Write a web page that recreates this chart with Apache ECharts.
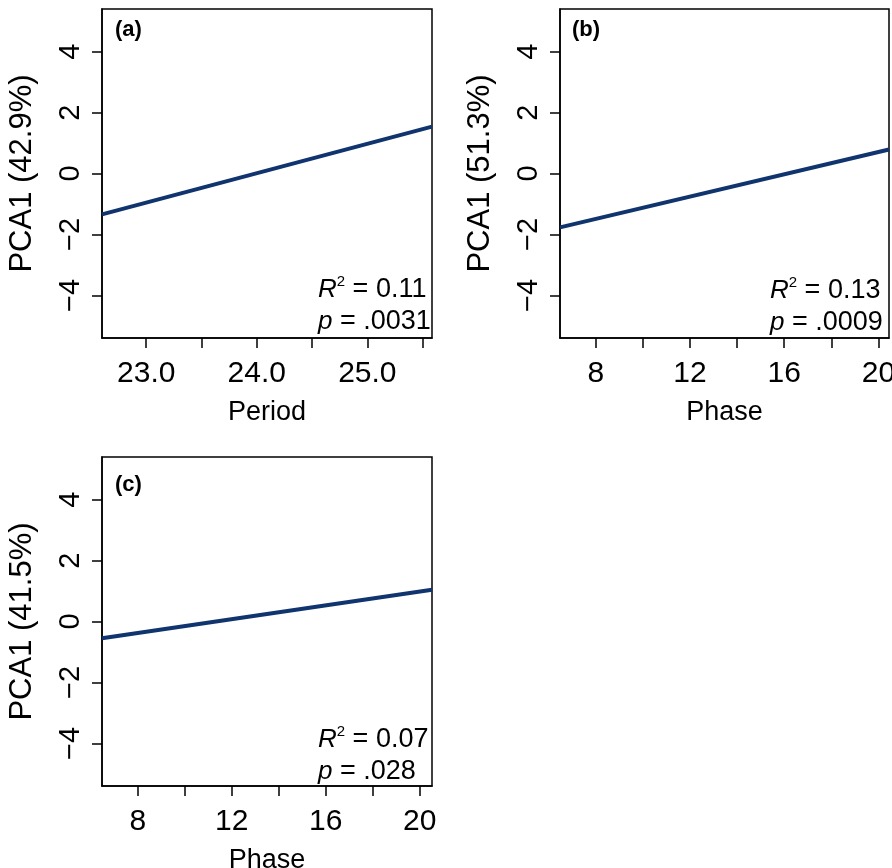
<!DOCTYPE html>
<html><head><meta charset="utf-8">
<script src="https://cdn.jsdelivr.net/npm/echarts@6/dist/echarts.min.js"></script>
<style>html,body{margin:0;padding:0;background:#fff}#c{width:892px;height:868px}</style>
</head><body><div id="c"></div><script>
const panelLabels = ['(a)', '(b)', '(c)'];
const xTitles = ['Period', 'Phase', 'Phase'];
const yTitles = ['PCA1 (42.9%)', 'PCA1 (51.3%)', 'PCA1 (41.5%)'];
const xRanges = [[22.6, 25.585], [6.48, 20.45], [6.48, 20.52]];
const yRange = [-5.4, 5.4];
const xTickValues = [[23, 23.5, 24, 24.5, 25, 25.5], [8, 10, 12, 14, 16, 18, 20], [8, 10, 12, 14, 16, 18, 20]];
const xLabelValues = [[23, 24, 25], [8, 12, 16, 20], [8, 12, 16, 20]];
const xLabelDecimals = [1, 0, 0];
const yTickValues = [-4, -2, 0, 2, 4];
const fitX = [[22.6, 25.585], [6.48, 20.45], [6.48, 20.52]];
const fitY = [[-1.34, 1.54], [-1.77, 0.79], [-0.55, 1.04]];
const r2Values = ['0.11', '0.13', '0.07'];
const pValues = ['.0031', '.0009', '.028'];

const FONT = 'Liberation Sans, Arial, Helvetica, sans-serif';
const LINE_COLOR = '#10346e';
const grids = [
  {left: 102, top: 9, width: 330, height: 329},
  {left: 560, top: 9, width: 329, height: 329},
  {left: 102, top: 457, width: 330, height: 329}
];
const labelPos = [[115, 19], [572, 19], [115, 474]];
const statPos = [[318, 274], [770, 275], [318, 724]];

const chart = echarts.init(document.getElementById('c'), null, {renderer: 'canvas'});
const option = {
  backgroundColor: '#fff',
  animation: false,
  grid: grids.map(g => Object.assign({show: true, borderColor: '#000', borderWidth: 1.5, backgroundColor: 'transparent', containLabel: false, outerBoundsMode: 'none'}, g)),
  xAxis: grids.map((g, i) => ({
    type: 'value', gridIndex: i, min: xRanges[i][0], max: xRanges[i][1],
    name: xTitles[i], nameLocation: 'middle', nameGap: 61,
    nameTextStyle: {fontFamily: FONT, fontSize: 27, color: '#000'},
    axisLine: {show: true, onZero: false, lineStyle: {color: '#000', width: 1.5}},
    axisTick: {show: true, length: 10, inside: false, customValues: xTickValues[i], lineStyle: {color: '#000', width: 1.5}},
    axisLabel: {show: true, margin: 21, customValues: xLabelValues[i], fontFamily: FONT, fontSize: 30, color: '#000',
      formatter: v => Number(v).toFixed(xLabelDecimals[i])},
    splitLine: {show: false}
  })),
  yAxis: grids.map((g, i) => ({
    type: 'value', gridIndex: i, min: yRange[0], max: yRange[1],
    name: yTitles[i], nameLocation: 'middle', nameGap: 64, nameRotate: 90,
    nameTextStyle: {fontFamily: FONT, fontSize: 31, color: '#000'},
    axisLine: {show: true, onZero: false, lineStyle: {color: '#000', width: 1.5}},
    axisTick: {show: true, length: 10, inside: false, customValues: yTickValues, lineStyle: {color: '#000', width: 1.5}},
    axisLabel: {show: true, rotate: 90, margin: 17, customValues: yTickValues, fontFamily: FONT, fontSize: 29, color: '#000',
      formatter: v => (v < 0 ? '\u2212' + Math.abs(v) : String(v))},
    splitLine: {show: false}
  })),
  series: grids.map((g, i) => ({
    type: 'line', xAxisIndex: i, yAxisIndex: i,
    data: fitX[i].map((x, k) => [x, fitY[i][k]]),
    symbol: 'none', clip: true,
    lineStyle: {color: LINE_COLOR, width: 4}
  })),
  graphic: [
    ...panelLabels.map((t, i) => ({
      type: 'text', left: labelPos[i][0], top: labelPos[i][1],
      style: {text: t, fontFamily: FONT, fontSize: 22, fontWeight: 'bold', fill: '#000'}
    })),
    ...r2Values.map((r, i) => ({
      type: 'text', left: statPos[i][0], top: statPos[i][1],
      style: {
        text: '{i|R}{s|2}{n| = ' + r + '}\n{i|p}{n| = ' + pValues[i] + '}',
        fill: '#000', fontFamily: FONT,
        rich: {
          i: {fontFamily: FONT, fontSize: 26, fontStyle: 'italic', lineHeight: 32, fill: '#000'},
          s: {fontFamily: FONT, fontSize: 15, verticalAlign: 'top', lineHeight: 32, padding: [0, 0, 10, 0], fill: '#000'},
          n: {fontFamily: FONT, fontSize: 27, lineHeight: 32, fill: '#000'}
        }
      }
    }))
  ]
};
chart.setOption(option);
</script></body></html>
